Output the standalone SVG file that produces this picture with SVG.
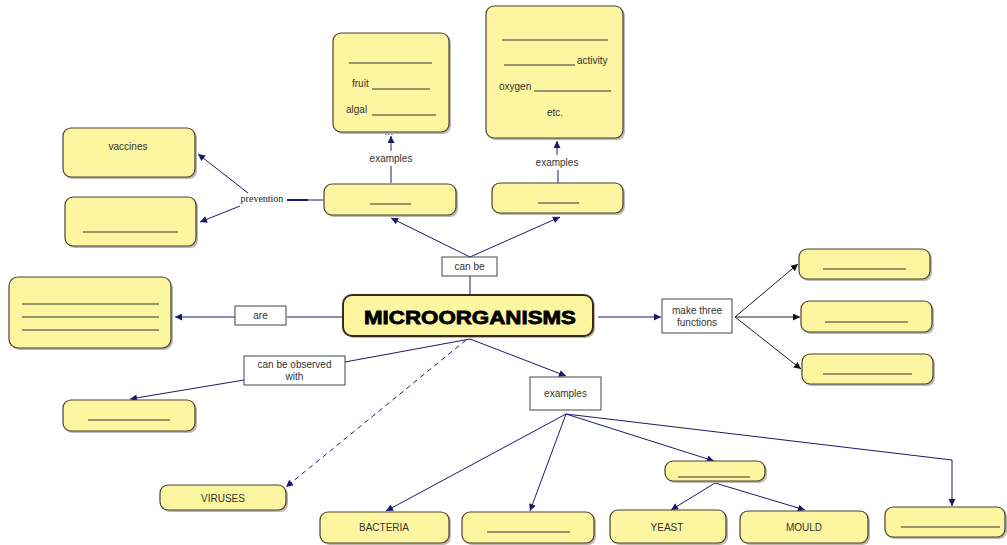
<svg xmlns="http://www.w3.org/2000/svg" width="1007" height="545" viewBox="0 0 1007 545">
<style>
.n{fill:#fdf6a0;stroke:#4a3f30;stroke-width:1.2}
.s{fill:#8a8a80;opacity:0.6}
.lb{fill:#fff;stroke:#444;stroke-width:1}
.t{font-family:"Liberation Sans",Arial,sans-serif;font-size:10px;fill:#333;text-anchor:middle}
.tl{font-family:"Liberation Sans",Arial,sans-serif;font-size:10px;fill:#333}
.u{stroke:#333;stroke-width:1}
.c{stroke:#1a1a6a;stroke-width:1;fill:none}
.k{stroke:#222;stroke-width:1;fill:none}
</style>
<defs>
<marker id="a" viewBox="0 0 10 10" refX="10" refY="5" markerWidth="11" markerHeight="7" orient="auto" markerUnits="userSpaceOnUse"><path d="M0,0 L10,5 L0,10 z" fill="#1a1a6a"/></marker>
<marker id="b" viewBox="0 0 10 10" refX="10" refY="5" markerWidth="11" markerHeight="7" orient="auto" markerUnits="userSpaceOnUse"><path d="M0,0 L10,5 L0,10 z" fill="#111"/></marker>
</defs>
<rect width="1007" height="545" fill="#fff"/>

<g id="connectors">
<line class="c" x1="323" y1="200" x2="308" y2="200"/>
<line x1="308" y1="200" x2="287" y2="200" stroke="#1a1a6a" stroke-width="2"/>
<line class="c" x1="248" y1="193" x2="198" y2="154" marker-end="url(#a)"/>
<line class="c" x1="240" y1="206" x2="200" y2="222" marker-end="url(#a)"/>
<line class="c" x1="391" y1="183" x2="391" y2="166"/>
<line class="c" x1="391" y1="151" x2="391" y2="136" marker-end="url(#a)"/>
<line class="c" x1="558" y1="183" x2="558" y2="170"/>
<line class="c" x1="557" y1="155" x2="557" y2="141" marker-end="url(#a)"/>
<line class="c" x1="470" y1="257" x2="391" y2="218" marker-end="url(#a)"/>
<line class="c" x1="470" y1="257" x2="560" y2="217" marker-end="url(#a)"/>
<line class="c" x1="470" y1="276" x2="470" y2="295"/>
<line class="c" x1="343" y1="317" x2="287" y2="317"/>
<line class="c" x1="235" y1="317" x2="175" y2="317" marker-end="url(#a)"/>
<line class="c" x1="598" y1="317" x2="661" y2="317" marker-end="url(#a)"/>
<line class="k" x1="735" y1="317" x2="798" y2="264" marker-end="url(#b)"/>
<line class="k" x1="735" y1="317" x2="800" y2="317" marker-end="url(#b)"/>
<line class="k" x1="735" y1="317" x2="801" y2="369" marker-end="url(#b)"/>
<line class="c" x1="470" y1="339" x2="345" y2="362"/>
<line class="c" x1="244" y1="380" x2="130" y2="399" marker-end="url(#a)"/>
<line class="c" x1="466" y1="340" x2="286" y2="487" stroke-dasharray="5,4" marker-end="url(#a)"/>
<line class="c" x1="470" y1="339" x2="566" y2="376" marker-end="url(#a)"/>
<line class="c" x1="566" y1="414" x2="386" y2="511" marker-end="url(#a)"/>
<line class="c" x1="566" y1="414" x2="530" y2="511" marker-end="url(#a)"/>
<line class="c" x1="566" y1="414" x2="714" y2="461" marker-end="url(#a)"/>
<polyline class="c" points="566,414 952,460 952,506" marker-end="url(#a)"/>
<line class="c" x1="715" y1="483" x2="671" y2="510" marker-end="url(#a)"/>
<line class="c" x1="715" y1="483" x2="805" y2="510" marker-end="url(#a)"/>
</g>

<g id="vaccines"><rect class="s" x="65" y="130" width="132" height="49" rx="8"/><rect class="n" x="63" y="128" width="132" height="49" rx="8"/><text class="t" x="128" y="150">vaccines</text></g>
<g id="prevention-blank"><rect class="s" x="67" y="199" width="131" height="49" rx="8"/><rect class="n" x="65" y="197" width="131" height="49" rx="8"/><line class="u" x1="83" y1="232" x2="178" y2="232"/></g>
<g id="prevention-label"><text x="262" y="202" font-family="Liberation Serif,serif" font-size="10" fill="#222" text-anchor="middle">prevention</text></g>

<g id="fruit-box"><rect class="s" x="335" y="35" width="116" height="99" rx="8"/><rect class="n" x="333" y="33" width="116" height="99" rx="8"/>
<line class="u" x1="349" y1="63" x2="432" y2="63"/>
<text class="tl" x="352" y="87">fruit</text><line class="u" x1="372" y1="89" x2="430" y2="89"/>
<text class="tl" x="346" y="113">algal</text><line class="u" x1="372" y1="115" x2="436" y2="115"/>
<text class="t" x="389" y="135" font-size="7">...</text></g>
<g id="examples-left"><text class="t" x="391" y="162">examples</text></g>

<g id="activity-box"><rect class="s" x="488" y="8" width="137" height="132" rx="8"/><rect class="n" x="486" y="6" width="137" height="132" rx="8"/>
<line class="u" x1="502" y1="40" x2="608" y2="40"/>
<line class="u" x1="504" y1="65" x2="575" y2="65"/><text class="tl" x="577" y="64">activity</text>
<text class="tl" x="499" y="90">oxygen</text><line class="u" x1="534" y1="91" x2="611" y2="91"/>
<text class="t" x="555" y="116">etc.</text></g>
<g id="examples-right"><text class="t" x="557" y="166">examples</text></g>

<g id="blank-left-mid"><rect class="s" x="326" y="186" width="132" height="31" rx="8"/><rect class="n" x="324" y="184" width="132" height="31" rx="8"/><line class="u" x1="370" y1="204" x2="411" y2="204"/></g>
<g id="blank-right-mid"><rect class="s" x="494" y="185" width="131" height="30" rx="8"/><rect class="n" x="492" y="183" width="131" height="30" rx="8"/><line class="u" x1="538" y1="203" x2="579" y2="203"/></g>

<g id="can-be"><rect class="lb" x="442" y="257" width="55" height="19"/><text class="t" x="469.5" y="270">can be</text></g>

<g id="microorganisms"><rect class="s" x="345" y="297" width="250" height="41" rx="9"/><rect x="343" y="295" width="250" height="41" rx="9" fill="#fdf6a0" stroke="#3a2a1a" stroke-width="2"/>
<text x="470" y="324" font-family="Liberation Sans,Arial,sans-serif" font-size="19" font-weight="bold" fill="#000" text-anchor="middle" stroke="#000" stroke-width="0.8" textLength="212" lengthAdjust="spacingAndGlyphs">MICROORGANISMS</text></g>

<g id="are"><rect class="lb" x="235" y="306" width="51" height="19"/><text class="t" x="260.5" y="319">are</text></g>
<g id="lines-box"><rect class="s" x="11" y="279" width="162" height="71" rx="9"/><rect class="n" x="9" y="277" width="162" height="71" rx="9"/>
<line class="u" x1="22" y1="304" x2="159" y2="304"/><line class="u" x1="22" y1="317" x2="159" y2="317"/><line class="u" x1="22" y1="330" x2="159" y2="330"/></g>

<g id="make-three"><rect class="lb" x="662" y="299" width="70" height="34"/><text class="t" x="697" y="314">make three</text><text class="t" x="697" y="326">functions</text></g>
<g id="function1"><rect class="s" x="801" y="251" width="131" height="30" rx="8"/><rect class="n" x="799" y="249" width="131" height="30" rx="8"/><line class="u" x1="823" y1="269" x2="906" y2="269"/></g>
<g id="function2"><rect class="s" x="803" y="303" width="131" height="31" rx="8"/><rect class="n" x="801" y="301" width="131" height="31" rx="8"/><line class="u" x1="825" y1="322" x2="908" y2="322"/></g>
<g id="function3"><rect class="s" x="804" y="356" width="131" height="30" rx="8"/><rect class="n" x="802" y="354" width="131" height="30" rx="8"/><line class="u" x1="823" y1="374" x2="912" y2="374"/></g>

<g id="observed"><rect class="lb" x="244" y="356" width="101" height="29"/><text class="t" x="294.5" y="368">can be observed</text><text class="t" x="294.5" y="380">with</text></g>
<g id="observed-blank"><rect class="s" x="65" y="402" width="132" height="31" rx="8"/><rect class="n" x="63" y="400" width="132" height="31" rx="8"/><line class="u" x1="88" y1="420" x2="170" y2="420"/></g>
<g id="viruses"><rect class="s" x="162" y="487" width="126" height="25" rx="8"/><rect class="n" x="160" y="485" width="126" height="25" rx="8"/><text class="t" x="223" y="502">VIRUSES</text></g>

<g id="examples-mid"><rect class="lb" x="530" y="377" width="71" height="33"/><text class="t" x="565.5" y="397">examples</text></g>
<g id="bacteria"><rect class="s" x="322" y="514" width="129" height="31" rx="8"/><rect class="n" x="320" y="512" width="129" height="31" rx="8"/><text class="t" x="384" y="531">BACTERIA</text></g>
<g id="blank-bottom"><rect class="s" x="464" y="514" width="132" height="31" rx="8"/><rect class="n" x="462" y="512" width="132" height="31" rx="8"/><line class="u" x1="487" y1="532" x2="570" y2="532"/></g>
<g id="fungi-blank"><rect class="s" x="667" y="463" width="100" height="20" rx="8"/><rect class="n" x="665" y="461" width="100" height="20" rx="8"/><line class="u" x1="678" y1="477" x2="750" y2="477"/></g>
<g id="yeast"><rect class="s" x="612" y="512" width="116" height="33" rx="8"/><rect class="n" x="610" y="510" width="116" height="33" rx="8"/><text class="t" x="667" y="531">YEAST</text></g>
<g id="mould"><rect class="s" x="742" y="513" width="128" height="32" rx="8"/><rect class="n" x="740" y="511" width="128" height="32" rx="8"/><text class="t" x="804" y="531">MOULD</text></g>
<g id="blank-far-right"><rect class="s" x="887" y="509" width="120" height="30" rx="8"/><rect class="n" x="885" y="507" width="120" height="30" rx="8"/><line class="u" x1="901" y1="527" x2="1000" y2="527"/></g>
</svg>
